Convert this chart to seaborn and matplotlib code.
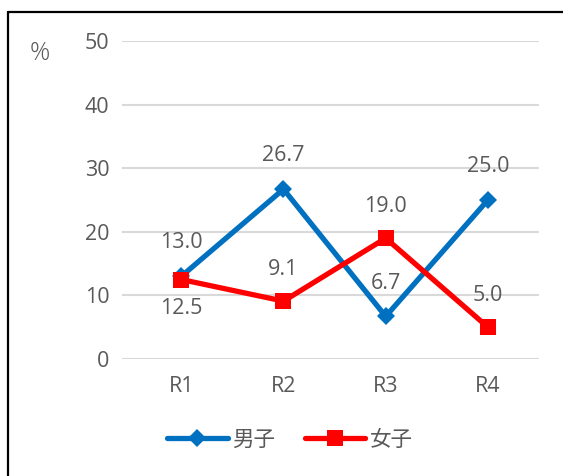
import matplotlib
matplotlib.use("Agg")
import matplotlib.pyplot as plt
from matplotlib.lines import Line2D
import seaborn as sns
import pandas as pd

rounds = ["R1", "R2", "R3", "R4"]
boys = [13.0, 26.7, 6.7, 25.0]
girls = [12.5, 9.1, 19.0, 5.0]
y_ticks = [0, 10, 20, 30, 40, 50]

sns.set_style("white")
plt.rcParams["font.family"] = ["Open Sans", "Noto Sans CJK JP", "DejaVu Sans"]

text_color = "#595959"
blue = "#0070C0"
red = "#FF0000"
fs = 15.5

fig = plt.figure(figsize=(5.63, 4.76), dpi=100)
ax = fig.add_axes([122 / 563, 1 - 359 / 476, (539 - 122) / 563, (359 - 41) / 476])

x = list(range(len(rounds)))
df_b = pd.DataFrame({"x": x, "v": boys})
df_g = pd.DataFrame({"x": x, "v": girls})

sns.lineplot(data=df_b, x="x", y="v", ax=ax, color=blue, lw=3.8,
             marker="D", markersize=9.5, markeredgewidth=0, zorder=3)
sns.lineplot(data=df_g, x="x", y="v", ax=ax, color=red, lw=3.8,
             marker="s", markersize=11.5, markeredgewidth=0, zorder=4)

ax.set_xlim(-0.58, 3.5)
ax.set_ylim(0, 50)
ax.set_yticks(y_ticks)
ax.set_xticks(x)
ax.set_xticklabels(rounds)
ax.set_xlabel("")
ax.set_ylabel("")
ax.grid(axis="y", color="#D9D9D9", lw=1.5)
ax.set_axisbelow(True)
for s in ax.spines.values():
    s.set_visible(False)
ax.tick_params(axis="y", length=0, pad=9, labelsize=fs, labelcolor=text_color)
ax.tick_params(axis="x", length=0, pad=12, labelsize=fs, labelcolor=text_color)

# value labels
for i, v in enumerate(boys):
    ax.annotate(f"{v:.1f}", (i, v), xytext=(0, 24), textcoords="offset points",
                ha="center", va="center", fontsize=fs, color=text_color)
for i, v in enumerate(girls):
    dy = -21 if i == 0 else 23
    ax.annotate(f"{v:.1f}", (i, v), xytext=(0, dy), textcoords="offset points",
                ha="center", va="center", fontsize=fs, color=text_color)

fig.text(40 / 563, 1 - 53 / 476, "%", ha="center", va="center",
         fontsize=18, color=text_color, fontweight="light")

handles = [
    Line2D([0], [0], color=blue, lw=3.8, marker="D", markersize=9.5,
           markeredgewidth=0, solid_capstyle="round"),
    Line2D([0], [0], color=red, lw=3.8, marker="s", markersize=11.5,
           markeredgewidth=0, solid_capstyle="round"),
]
fig.legend(handles, ["男子", "女子"], loc="center", bbox_to_anchor=(290 / 563, 1 - 440 / 476),
           ncol=2, frameon=False, fontsize=fs, labelcolor=text_color,
           handlelength=2.8, handletextpad=0.2, columnspacing=1.4)

# outer frame
fig.add_artist(Line2D([8 / 563, 8 / 563], [0, 1 - 12 / 476], transform=fig.transFigure,
                      color="black", lw=1.6))
fig.add_artist(Line2D([8 / 563, 1], [1 - 12 / 476, 1 - 12 / 476], transform=fig.transFigure,
                      color="black", lw=1.6))

fig.savefig("out.png", dpi=100)
